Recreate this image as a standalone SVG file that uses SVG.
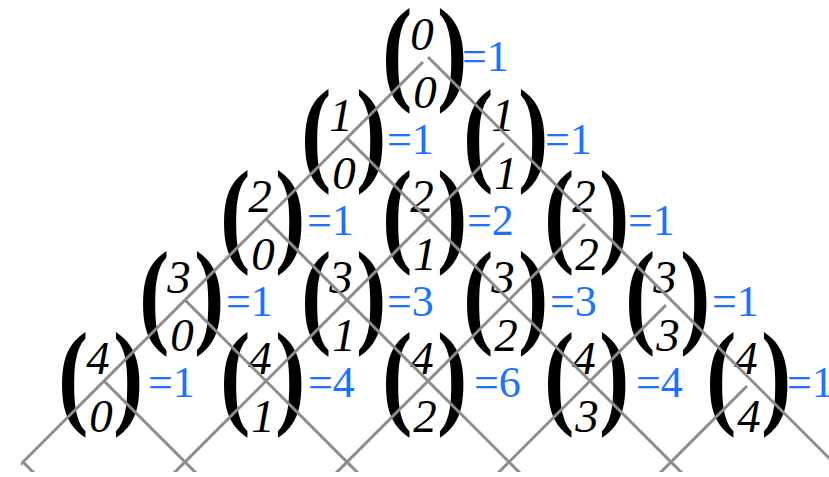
<svg xmlns="http://www.w3.org/2000/svg" width="829" height="477" viewBox="0 0 829 477">
<style>
text{font-family:'Liberation Serif',Tinos,'Times New Roman','DejaVu Serif',serif}
.p{font-size:117px;font-weight:bold;fill:#000}
.d{font-style:italic;font-size:47px;fill:#000;text-anchor:middle}
.v{font-size:44px;fill:#1a73ff}
.ln{stroke:#8c8c8c;stroke-width:3;fill:none}
</style>
<defs>
<clipPath id="clip"><rect x="21" y="0" width="808" height="472"/></clipPath>
</defs>
<rect width="829" height="477" fill="#fff"/>
<g id="nodes">
<g id="n0-0" transform="translate(428,57)"><text class="p" transform="translate(-46,32) scale(0.78,1)">(</text><text class="p" transform="translate(9,32) scale(0.78,1)">)</text><text class="d" x="-6" y="-7">0</text><text class="d" x="-3" y="51">0</text><text class="v" x="34" y="14">=1</text></g>
<g id="n1-0" transform="translate(347,138)"><text class="p" transform="translate(-46,32) scale(0.78,1)">(</text><text class="p" transform="translate(9,32) scale(0.78,1)">)</text><text class="d" x="-6" y="-7">1</text><text class="d" x="-3" y="51">0</text><text class="v" x="40" y="16">=1</text></g>
<g id="n1-1" transform="translate(509,138)"><text class="p" transform="translate(-46,32) scale(0.78,1)">(</text><text class="p" transform="translate(9,32) scale(0.78,1)">)</text><text class="d" x="-6" y="-7">1</text><text class="d" x="-3" y="51">1</text><text class="v" x="36" y="16">=1</text></g>
<g id="n2-0" transform="translate(266,219)"><text class="p" transform="translate(-46,32) scale(0.78,1)">(</text><text class="p" transform="translate(9,32) scale(0.78,1)">)</text><text class="d" x="-6" y="-7">2</text><text class="d" x="-3" y="51">0</text><text class="v" x="41" y="16">=1</text></g>
<g id="n2-1" transform="translate(428,219)"><text class="p" transform="translate(-46,32) scale(0.78,1)">(</text><text class="p" transform="translate(9,32) scale(0.78,1)">)</text><text class="d" x="-6" y="-7">2</text><text class="d" x="-3" y="51">1</text><text class="v" x="39" y="16">=2</text></g>
<g id="n2-2" transform="translate(590,219)"><text class="p" transform="translate(-46,32) scale(0.78,1)">(</text><text class="p" transform="translate(9,32) scale(0.78,1)">)</text><text class="d" x="-6" y="-7">2</text><text class="d" x="-3" y="51">2</text><text class="v" x="38" y="16">=1</text></g>
<g id="n3-0" transform="translate(185,300)"><text class="p" transform="translate(-46,32) scale(0.78,1)">(</text><text class="p" transform="translate(9,32) scale(0.78,1)">)</text><text class="d" x="-6" y="-7">3</text><text class="d" x="-3" y="51">0</text><text class="v" x="41" y="16">=1</text></g>
<g id="n3-1" transform="translate(347,300)"><text class="p" transform="translate(-46,32) scale(0.78,1)">(</text><text class="p" transform="translate(9,32) scale(0.78,1)">)</text><text class="d" x="-6" y="-7">3</text><text class="d" x="-3" y="51">1</text><text class="v" x="40" y="16">=3</text></g>
<g id="n3-2" transform="translate(509,300)"><text class="p" transform="translate(-46,32) scale(0.78,1)">(</text><text class="p" transform="translate(9,32) scale(0.78,1)">)</text><text class="d" x="-6" y="-7">3</text><text class="d" x="-3" y="51">2</text><text class="v" x="41" y="16">=3</text></g>
<g id="n3-3" transform="translate(671,300)"><text class="p" transform="translate(-46,32) scale(0.78,1)">(</text><text class="p" transform="translate(9,32) scale(0.78,1)">)</text><text class="d" x="-6" y="-7">3</text><text class="d" x="-3" y="51">3</text><text class="v" x="41" y="16">=1</text></g>
<g id="n4-0" transform="translate(104,381)"><text class="p" transform="translate(-46,32) scale(0.78,1)">(</text><text class="p" transform="translate(9,32) scale(0.78,1)">)</text><text class="d" x="-6" y="-7">4</text><text class="d" x="-3" y="51">0</text><text class="v" x="44" y="16">=1</text></g>
<g id="n4-1" transform="translate(266,381)"><text class="p" transform="translate(-46,32) scale(0.78,1)">(</text><text class="p" transform="translate(9,32) scale(0.78,1)">)</text><text class="d" x="-6" y="-7">4</text><text class="d" x="-3" y="51">1</text><text class="v" x="42" y="16">=4</text></g>
<g id="n4-2" transform="translate(428,381)"><text class="p" transform="translate(-46,32) scale(0.78,1)">(</text><text class="p" transform="translate(9,32) scale(0.78,1)">)</text><text class="d" x="-6" y="-7">4</text><text class="d" x="-3" y="51">2</text><text class="v" x="46" y="16">=6</text></g>
<g id="n4-3" transform="translate(590,381)"><text class="p" transform="translate(-46,32) scale(0.78,1)">(</text><text class="p" transform="translate(9,32) scale(0.78,1)">)</text><text class="d" x="-6" y="-7">4</text><text class="d" x="-3" y="51">3</text><text class="v" x="46" y="16">=4</text></g>
<g id="n4-4" transform="translate(752,381)"><text class="p" transform="translate(-46,32) scale(0.78,1)">(</text><text class="p" transform="translate(9,32) scale(0.78,1)">)</text><text class="d" x="-6" y="-7">4</text><text class="d" x="-3" y="51">4</text><text class="v" x="35" y="16">=1</text></g>
</g>
<g id="connectors" class="ln" clip-path="url(#clip)">
<line x1="423" y1="62" x2="-77" y2="562"/>
<line x1="504" y1="143" x2="4" y2="643"/>
<line x1="585" y1="224" x2="85" y2="724"/>
<line x1="666" y1="305" x2="166" y2="805"/>
<line x1="747" y1="386" x2="247" y2="886"/>
<line x1="428" y1="57" x2="928" y2="557"/>
<line x1="347" y1="138" x2="847" y2="638"/>
<line x1="266" y1="219" x2="766" y2="719"/>
<line x1="185" y1="300" x2="685" y2="800"/>
<line x1="104" y1="381" x2="604" y2="881"/>
<line x1="23" y1="462" x2="523" y2="962"/>
</g>
</svg>
